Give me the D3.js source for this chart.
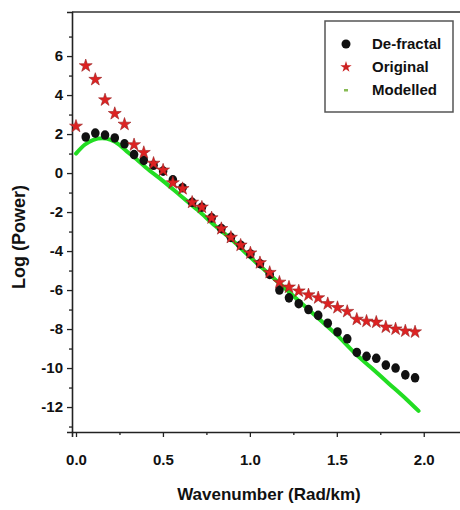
<!DOCTYPE html>
<html>
<head>
<meta charset="utf-8">
<script src="https://cdnjs.cloudflare.com/ajax/libs/d3/7.8.5/d3.min.js"></script>
<style>
  body { margin: 0; background: #fff; }
  text { font-family: "Liberation Sans", Arial, sans-serif; font-weight: bold; fill: #111; }
</style>
</head>
<body>
<svg id="chart" width="460" height="510"></svg>
<script>
// wavenumber (Rad/km) of each sample
let wavenumber = [0.000, 0.056, 0.111, 0.167, 0.223, 0.279, 0.334, 0.390, 0.446, 0.501,
  0.557, 0.613, 0.668, 0.724, 0.780, 0.836, 0.891, 0.947, 1.003, 1.058,
  1.114, 1.170, 1.225, 1.281, 1.337, 1.393, 1.448, 1.504, 1.560, 1.615,
  1.671, 1.727, 1.782, 1.838, 1.894, 1.950];

// log power, original spectrum (stars)
let original = [2.4, 5.5, 4.8, 3.75, 3.05, 2.5, 1.45, 1.05, 0.5, 0.15,
  -0.5, -0.8, -1.5, -1.75, -2.3, -2.85, -3.3, -3.7, -4.1, -4.6,
  -5.1, -5.6, -5.85, -6.05, -6.25, -6.4, -6.7, -6.9, -7.1, -7.5,
  -7.6, -7.65, -7.9, -8.0, -8.1, -8.15];

// log power, de-fractal spectrum (dots), no value at the first wavenumber
let defractal = [null, 1.85, 2.05, 1.95, 1.8, 1.5, 0.95, 0.65, 0.4, 0.1,
  -0.35, -0.75, -1.5, -1.75, -2.3, -2.85, -3.3, -3.7, -4.15, -4.65,
  -5.2, -6.0, -6.4, -6.7, -7.0, -7.3, -7.7, -8.15, -8.5, -9.2,
  -9.4, -9.5, -9.85, -10.0, -10.35, -10.5];

// modelled curve
let modelledX = [0.0, 0.05, 0.1, 0.15, 0.2, 0.25, 0.3, 0.35, 0.4, 0.5, 0.6, 0.7,
  0.8, 0.9, 1.0, 1.1, 1.2, 1.3, 1.4, 1.5, 1.6, 1.7, 1.8, 1.9, 1.97];
let modelledY = [1.0, 1.45, 1.7, 1.78, 1.7, 1.45, 1.05, 0.7, 0.3, -0.4, -1.15, -1.9,
  -2.7, -3.45, -4.3, -5.1, -5.9, -6.7, -7.5, -8.3, -9.2, -10.0, -10.8, -11.6, -12.2];

let yTicks = [-12, -10, -8, -6, -4, -2, 0, 2, 4, 6];
let yMinor = [-13, -11, -9, -7, -5, -3, -1, 1, 3, 5, 7];
let xTicks = [0.0, 0.5, 1.0, 1.5, 2.0];
let xMinor = [0.25, 0.75, 1.25, 1.75];

let legendNames = ['De-fractal', 'Original', 'Modelled'];

let svg = d3.select('#chart');
let plotLeft = 72, plotTop = 12, plotRight = 462, plotBottom = 432;

let x = d3.scaleLinear().domain([-0.023, 2.22]).range([plotLeft, plotRight]);
let y = d3.scaleLinear().domain([-13.28, 8.26]).range([plotBottom, plotTop]);

// frame top line
svg.append('line')
  .attr('x1', plotLeft).attr('x2', plotRight)
  .attr('y1', plotTop).attr('y2', plotTop)
  .attr('stroke', '#666').attr('stroke-width', 2);

// axes
svg.append('g')
  .attr('transform', 'translate(' + plotLeft + ',0)')
  .call(d3.axisLeft(y).tickValues(yTicks).tickSize(5).tickPadding(4).tickFormat(d => String(d)));
svg.append('g')
  .attr('transform', 'translate(' + plotLeft + ',0)')
  .call(d3.axisLeft(y).tickValues(yMinor).tickSize(3).tickFormat(''))
  .select('.domain').remove();

svg.append('g')
  .attr('transform', 'translate(0,' + plotBottom + ')')
  .call(d3.axisBottom(x).tickValues(xTicks).tickSize(5).tickPadding(17).tickFormat(d3.format('.1f')));
svg.append('g')
  .attr('transform', 'translate(0,' + plotBottom + ')')
  .call(d3.axisBottom(x).tickValues(xMinor).tickSize(3).tickFormat(''))
  .select('.domain').remove();

svg.selectAll('.domain').attr('stroke', '#222').attr('stroke-width', 1.6);
svg.selectAll('.tick line').attr('stroke', '#222').attr('stroke-width', 1.3);
svg.selectAll('.tick text')
  .attr('font-family', '"Liberation Sans", Arial, sans-serif')
  .attr('font-weight', 'bold')
  .attr('font-size', 15)
  .attr('fill', '#111');

// axis titles
svg.append('text')
  .attr('x', 269).attr('y', 500)
  .attr('text-anchor', 'middle')
  .attr('font-size', 17)
  .text('Wavenumber (Rad/km)');

svg.append('text')
  .attr('transform', 'translate(25,237) rotate(-90)')
  .attr('text-anchor', 'middle')
  .attr('font-size', 18)
  .text('Log (Power)');

// modelled line
let line = d3.line()
  .x((d, i) => x(modelledX[i]))
  .y(d => y(d))
  .curve(d3.curveMonotoneX);
svg.append('path')
  .datum(modelledY)
  .attr('d', line)
  .attr('fill', 'none')
  .attr('stroke', '#22dd22')
  .attr('stroke-width', 4)
  .attr('stroke-linecap', 'round');

// de-fractal dots
svg.append('g').selectAll('ellipse')
  .data(defractal.map((v, i) => ({k: wavenumber[i], v: v})).filter(d => d.v !== null))
  .enter()
  .append('ellipse')
  .attr('cx', d => x(d.k))
  .attr('cy', d => y(d.v))
  .attr('rx', 4.3)
  .attr('ry', 4.8)
  .attr('fill', '#111');

// original stars
let star = d3.symbol().type(d3.symbolStar).size(52);
svg.append('g').selectAll('path')
  .data(original.map((v, i) => ({k: wavenumber[i], v: v})))
  .enter()
  .append('path')
  .attr('d', star)
  .attr('transform', d => 'translate(' + x(d.k) + ',' + y(d.v) + ')')
  .attr('fill', '#dd2222')
  .attr('stroke', '#992020')
  .attr('stroke-width', 0.6);

// legend
let legend = svg.append('g');
legend.append('rect')
  .attr('x', 325).attr('y', 21)
  .attr('width', 128).attr('height', 91)
  .attr('fill', '#fff')
  .attr('stroke', '#555')
  .attr('stroke-width', 1.5);

let rowY = [44, 67, 90];
legend.selectAll('text.name')
  .data(legendNames)
  .enter()
  .append('text')
  .attr('class', 'name')
  .attr('x', 372)
  .attr('y', (d, i) => rowY[i] + 5)
  .attr('font-size', 15)
  .text(d => d);

legend.append('circle')
  .attr('cx', 346).attr('cy', rowY[0]).attr('r', 4.5)
  .attr('fill', '#111');
legend.append('path')
  .attr('d', d3.symbol().type(d3.symbolStar).size(40))
  .attr('transform', 'translate(346,' + rowY[1] + ')')
  .attr('fill', '#cc2222');
legend.append('rect')
  .attr('x', 344).attr('y', rowY[2] - 1)
  .attr('width', 4).attr('height', 2.5)
  .attr('fill', '#88bb55');
</script>
</body>
</html>
